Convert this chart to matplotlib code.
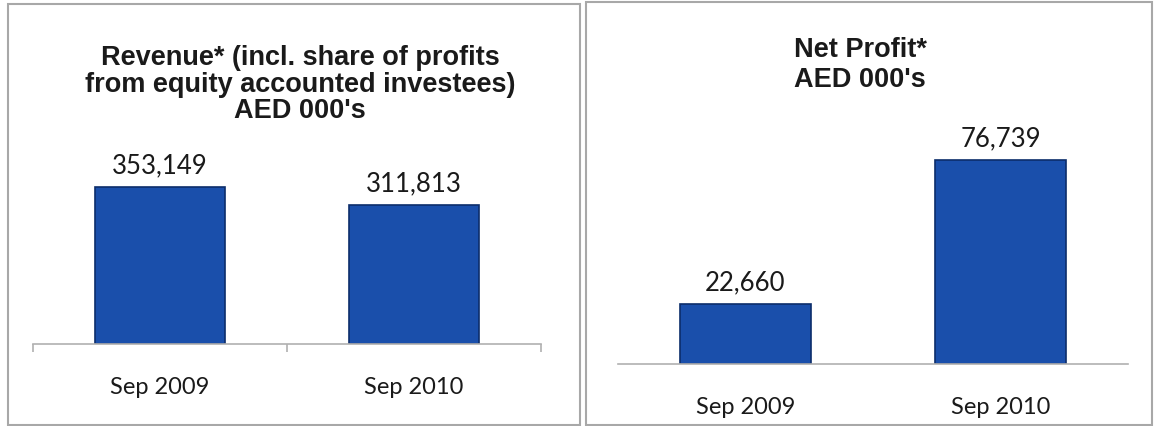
import numpy as np
import matplotlib.pyplot as plt
from matplotlib.patches import Rectangle

periods = ['Sep 2009', 'Sep 2010']
revenue = [353149, 311813]
net_profit = [22660, 76739]
revenue_title = "Revenue* (incl. share of profits\nfrom equity accounted investees)\nAED 000's"
profit_title = "Net Profit*\nAED 000's"

W, H = 1157, 427
fig = plt.figure(figsize=(W / 100, H / 100), dpi=100)

def px_axes(x0, x1, y_top, y_base):
    return fig.add_axes([x0 / W, 1 - y_base / H, (x1 - x0) / W, (y_base - y_top) / H])

bar_col = '#1a4fab'
edge_col = '#0c2d6b'
lbl_font = 'Lato'

def draw(ax, vals, ymax, ticks):
    x = np.arange(len(vals))
    ax.bar(x, vals, width=0.51, color=bar_col, edgecolor=edge_col, linewidth=1.2, zorder=2)
    ax.set_xlim(-0.5, len(vals) - 0.5)
    ax.set_ylim(0, ymax)
    for s in ['top', 'right', 'left']:
        ax.spines[s].set_visible(False)
    ax.spines['bottom'].set_color('#b0b0b0')
    ax.spines['bottom'].set_linewidth(1.2)
    ax.set_yticks([])
    ax.set_xticks(x)
    ax.set_xticklabels(periods, fontsize=17, family=lbl_font, color='#1a1a1a')
    ax.tick_params(axis='x', length=0, pad=23)
    if ticks:
        ax.set_xticks(np.arange(-0.5, len(vals)), minor=True)
        ax.tick_params(axis='x', which='minor', length=6, color='#b0b0b0', width=1.2)
    for xi, v in zip(x, vals):
        ax.annotate(f'{v:,}', (xi, v), xytext=(0, 7), textcoords='offset points',
                    ha='center', va='bottom', fontsize=18.5, family=lbl_font, color='#1a1a1a')
    ax.patch.set_alpha(0)

ax1 = px_axes(33, 541, 140, 345)
draw(ax1, revenue, 461000, True)
ax2 = px_axes(618, 1128, 120, 365)
draw(ax2, net_profit, 92000, False)

fig.text(300 / W, 1 - 45 / H, revenue_title, ha='center', va='top', fontsize=19.5,
         fontweight='bold', family='Liberation Sans', color='#1a1a1a', linespacing=1.03)
fig.text(860 / W, 1 - 37 / H, profit_title, ha='center', va='top', fontsize=19.5,
         fontweight='bold', family='Liberation Sans', color='#1a1a1a', linespacing=1.2)

for (x0, y0, x1, y1) in [(8, 5, 580, 426), (586, 3, 1152, 426)]:
    fig.patches.append(Rectangle((x0 / W, 1 - y1 / H), (x1 - x0) / W, (y1 - y0) / H,
                                 transform=fig.transFigure, fill=False,
                                 edgecolor='#a8a8a8', linewidth=1.5))

fig.savefig('out.png', dpi=100)
